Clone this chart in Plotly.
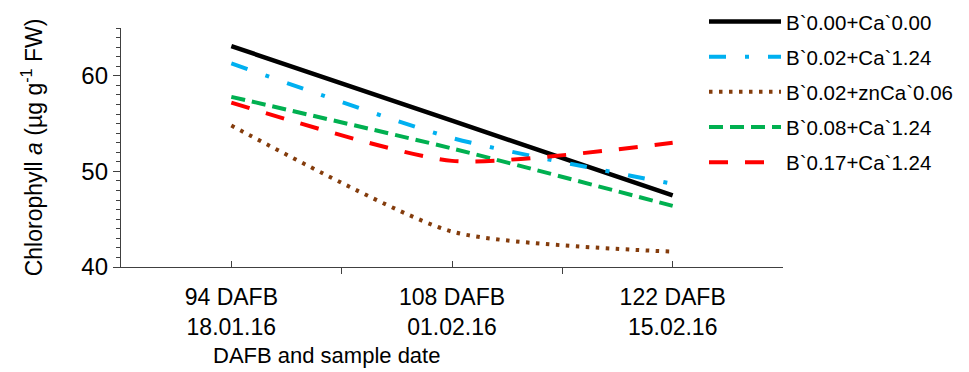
import plotly.graph_objects as go

categories = ["94 DAFB<br>18.01.16", "108 DAFB<br>01.02.16", "122 DAFB<br>15.02.16"]
cat_pos = [1, 2, 3]
series_names = ["B`0.00+Ca`0.00", "B`0.02+Ca`1.24", "B`0.02+znCa`0.06", "B`0.08+Ca`1.24", "B`0.17+Ca`1.24"]
s_control = [63.1, 55.3, 47.5]
s_b002_ca124 = [61.3, 53.5, 48.7]
s_b002_znca = [54.8, 43.7, 41.6]
s_b008_ca124 = [57.8, 52.4, 46.4]
s_b017_ca124 = [57.2, 51.1, 53.0]

values = [s_control, s_b002_ca124, s_b002_znca, s_b008_ca124, s_b017_ca124]
colors = ["#000000", "#00B0F0", "#843C0C", "#00B050", "#FF0000"]
dashes = ["solid", "17px,19px,4px,19px", "3.5px,6.5px", "14px,7px", "19px,17px"]
widths = [4.5, 4, 4, 4, 4]

FONT = "Liberation Sans, Arial, sans-serif"

fig = go.Figure()
for name, v, c, d, w in zip(series_names, values, colors, dashes, widths):
    fig.add_trace(go.Scatter(
        x=cat_pos, y=v, name=name, mode="lines",
        line=dict(color=c, dash=d, width=w, shape="spline", smoothing=0.6),
        legendgroup=name,
    ))

L, R, T, B = 121, 186, 28, 105
PW, PH = 969 - L - R, 372 - T - B

fig.update_layout(
    width=969, height=372,
    margin=dict(l=L, r=R, t=T, b=B, autoexpand=False),
    paper_bgcolor="white", plot_bgcolor="white",
    font=dict(family=FONT, size=21, color="#000000"),
    showlegend=True,
    legend=dict(
        x=(704 - L) / PW, y=1.11, xanchor="left", yanchor="top",
        bgcolor="rgba(0,0,0,0)", itemwidth=72, tracegroupgap=5.5,
        font=dict(family=FONT, size=20.5, color="#000000"),
    ),
    xaxis=dict(
        range=[0.5, 3.5], tickvals=cat_pos, ticktext=categories,
        ticks="inside", ticklen=6, tickcolor="#404040",
        showline=True, linecolor="#404040", linewidth=1.3,
        showgrid=False, zeroline=False,
        ticklabelstandoff=9,
        minor=dict(tick0=0.5, dtick=1, ticks="outside", ticklen=6, tickcolor="#404040", showgrid=False),
        tickfont=dict(family=FONT, size=23),
    ),
    yaxis=dict(
        range=[40, 65], tickvals=[40, 50, 60],
        ticks="outside", ticklen=7, tickcolor="#404040",
        showline=True, linecolor="#404040", linewidth=1.3,
        showgrid=False, zeroline=False,
        minor=dict(dtick=1, ticks="outside", ticklen=4, tickcolor="#404040", showgrid=False),
        tickfont=dict(family=FONT, size=24),
        title=dict(text="Chlorophyll <i>a</i> (µg g<sup>-1</sup> FW)", font=dict(family=FONT, size=23), standoff=32),
    ),
    annotations=[dict(
        text="DAFB and sample date", x=(326 - L) / PW, y=-(355 - (T + PH)) / PH,
        xref="paper", yref="paper", xanchor="center", yanchor="middle",
        showarrow=False, font=dict(family=FONT, size=22),
    )],
)

fig.write_html("out.html", config={"displayModeBar": False},
               post_script="document.body.style.margin='0';")
